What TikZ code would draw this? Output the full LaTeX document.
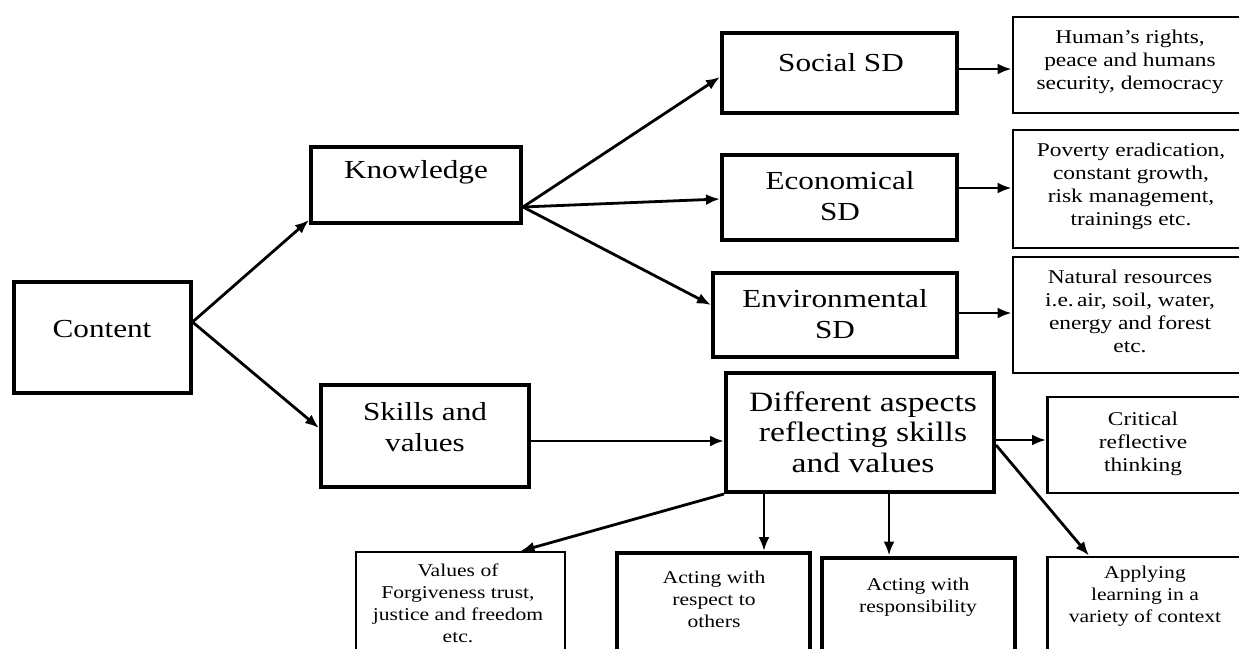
\documentclass[tikz,border=0pt]{standalone}
\usepackage{fontspec}
\setmainfont[FakeStretch=1.2]{Liberation Serif}
\usetikzlibrary{arrows.meta}
\begin{document}
\begin{tikzpicture}[x=1pt,y=-1pt,
  box/.style={draw=black,line width=4pt,rectangle,inner sep=0pt},
  thinbox/.style={draw=black,line width=1.8pt,rectangle,inner sep=0pt},
  midbox/.style={draw=black,line width=2.8pt,rectangle,inner sep=0pt},
  big/.style={align=center,inner sep=0pt,font=\fontsize{26}{31}\selectfont},
  huge/.style={align=center,inner sep=0pt,font=\fontsize{28}{30.5}\selectfont},
  small/.style={align=center,inner sep=0pt,font=\fontsize{19.5}{23}\selectfont},
  tiny/.style={align=center,inner sep=0pt,font=\fontsize{18}{22}\selectfont},
  arr/.style={line width=2.8pt,-{Latex[length=14pt,width=11pt]}}]
\useasboundingbox (0,0) rectangle (1239,648);
\clip (0,0) rectangle (1239,648);
% boxes
\node[box,minimum width=177pt,minimum height=111pt] (content) at (102,337.5) {};
\node[box,minimum width=210pt,minimum height=76pt] (knowledge) at (416,185) {};
\node[box,minimum width=208pt,minimum height=102pt] (skills) at (425,436) {};
\node[box,minimum width=235pt,minimum height=80pt] (social) at (839.5,73) {};
\node[box,minimum width=235pt,minimum height=85pt] (econ) at (839.5,197.5) {};
\node[box,minimum width=244pt,minimum height=84pt] (env) at (835,315) {};
\node[midbox,minimum width=238pt,minimum height=96pt] (human) at (1132,65) {};
\node[midbox,minimum width=238pt,minimum height=118pt] (poverty) at (1132,189) {};
\node[midbox,minimum width=238pt,minimum height=116pt] (natural) at (1132,315) {};
\node[box,minimum width=268pt,minimum height=119pt] (different) at (860,432.5) {};
\node[midbox,minimum width=203pt,minimum height=96pt] (critical) at (1149,445) {};
\node[thinbox,minimum width=209pt,minimum height=108pt] (values) at (460.5,606) {};
\node[box,minimum width=193pt,minimum height=107pt] (respect) at (713.5,606.5) {};
\node[box,minimum width=193pt,minimum height=103pt] (respons) at (918.5,609) {};
\node[midbox,minimum width=203pt,minimum height=103pt] (applying) at (1149,608.5) {};
% texts
\node[big] (tcontent) at (102,329) {Content};
\node[big] (tknowledge) at (416,172) {Knowledge};
\node[big] (tskills) at (425,427.5) {Skills and\\values};
\node[big] (tsocial) at (841,63) {Social SD};
\node[big] (tecon) at (840,196.5) {Economical\\SD};
\node[big] (tenv) at (835,314.5) {Environmental\\SD};
\node[small] (thuman) at (1130,62) {Human's rights,\\peace and humans\\security, democracy};
\node[small] (tpoverty) at (1131,186.5) {Poverty eradication,\\constant growth,\\risk management,\\trainings etc.};
\node[small] (tnatural) at (1130,311) {Natural resources\\i.e.\,air, soil, water,\\energy and forest\\etc.};
\node[huge] (tdifferent) at (863,432) {Different aspects\\reflecting skills\\and values};
\node[small] (tcritical) at (1143,443.5) {Critical\\reflective\\thinking};
\node[tiny] (tvalues) at (458,603) {Values of\\Forgiveness trust,\\justice and freedom\\etc.};
\node[tiny] (trespect) at (714,599) {Acting with\\respect to\\others};
\node[tiny] (trespons) at (918,597.5) {Acting with\\responsibility};
\node[tiny] (tapplying) at (1145,596) {Applying\\learning in a\\variety of context};
% connectors
\draw[arr] ([yshift=15.5pt]content.east) -- ([yshift=5pt]knowledge.south west);
\draw[arr] ([yshift=15.5pt]content.east) -- ([yshift=8pt]skills.west);
\draw[arr] ([yshift=-22pt]knowledge.east) -- ([yshift=-4pt]social.west);
\draw[arr] ([yshift=-22pt]knowledge.east) -- ([yshift=-1.5pt]econ.west);
\draw[arr] ([yshift=-22pt]knowledge.east) -- ([yshift=10pt]env.west);
\draw[arr] ([yshift=4pt]social.east) -- ([yshift=4pt]social.east -| human.west);
\draw[arr] ([yshift=9.5pt]econ.east) -- ([yshift=9.5pt]econ.east -| poverty.west);
\draw[arr] ([yshift=2pt]env.east) -- ([yshift=2pt]env.east -| natural.west);
\draw[arr] ([yshift=-5pt]skills.east) -- ([yshift=-5pt]skills.east -| different.west);
\draw[arr] ([yshift=-7.5pt]different.east) -- ([yshift=-7.5pt]different.east -| critical.west);
\draw[arr] (different.south west) -- ([xshift=60pt]values.north);
\draw[arr] ([xshift=40pt]different.south west) -- ([xshift=40pt]different.south west |- respect.north);
\draw[arr] ([xshift=165pt]different.south west) -- ([xshift=165pt]different.south west |- respons.north);
\draw[arr] ([yshift=-12.5pt]different.east) -- ([xshift=-60pt]applying.north);
\end{tikzpicture}
\end{document}
